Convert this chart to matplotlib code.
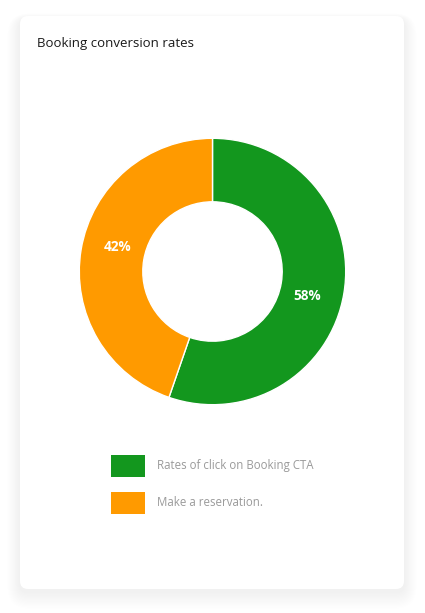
import numpy as np
import matplotlib
matplotlib.use("Agg")
import matplotlib.pyplot as plt
from matplotlib.patches import FancyBboxPatch

# ---- data ----
categories = ["Rates of click on Booking CTA", "Make a reservation."]
percent_labels = [58, 42]          # percentages printed on the slices
arc_shares = [55.3, 44.7]          # share of the ring each slice occupies in the picture
colors = ["#13971e", "#ff9a00"]
title = "Booking conversion rates"

W, H = 425, 613
fig = plt.figure(figsize=(W / 100, H / 100), dpi=100)
fig.patch.set_facecolor("white")
ax = fig.add_axes([0, 0, 1, 1])
ax.set_axis_off()

FONT = ["Open Sans", "DejaVu Sans"]

# ---- card with soft shadow ----
cx0, cy0, cw, ch = 20, 613 - 589, 384, 573
for i in range(14, 0, -1):
    sh = FancyBboxPatch((cx0 - i * 0.9, cy0 - i * 1.2 - 3), cw + i * 1.8, ch + i * 1.6,
                        boxstyle="round,pad=0,rounding_size=%f" % (8 + i),
                        facecolor="#000000", edgecolor="none", alpha=0.0035, zorder=1)
    ax.add_patch(sh)
card = FancyBboxPatch((cx0, cy0), cw, ch, boxstyle="round,pad=0,rounding_size=8",
                      facecolor="white", edgecolor="none", zorder=2)
ax.add_patch(card)

# ---- title ----
ax.text(37, 613 - 44, title, fontsize=9.5, family=FONT, color="#1a1a1a",
        ha="left", va="center", zorder=5)

# ---- donut ----
center = (212.5, 613 - 271.5)
r_out, r_in = 133.2, 69.7
wedges, _ = ax.pie(arc_shares, colors=colors, startangle=90, counterclock=False,
                   center=center, radius=r_out,
                   wedgeprops=dict(width=r_out - r_in, edgecolor="white", linewidth=1.0))
for w in wedges:
    w.set_zorder(4)

# labels at slice mid-angles
total = sum(percent_labels)
cum = 0
r_lab = 98
for p in percent_labels:
    mid = (cum + p / 2) / total * 360  # clockwise from top
    theta = np.deg2rad(90 - mid)
    ax.text(center[0] + r_lab * np.cos(theta), center[1] + r_lab * np.sin(theta),
            f"{p}%", color="white", fontsize=9.8, fontweight="bold", family=FONT,
            ha="center", va="center", zorder=6)
    cum += p

# ---- legend ----
leg_y = [613 - 466, 613 - 503]
for cat, col, y in zip(categories, colors, leg_y):
    ax.add_patch(plt.Rectangle((111, y - 11), 34, 22, facecolor=col, edgecolor="none", zorder=5))
    ax.text(157.5, y, cat, fontsize=8.3, family=FONT, color="#9a9a9a",
            ha="left", va="center", zorder=5)

ax.set_xlim(0, W)
ax.set_ylim(0, H)
ax.set_aspect("auto")
fig.savefig("out.png", dpi=100, facecolor="white")
